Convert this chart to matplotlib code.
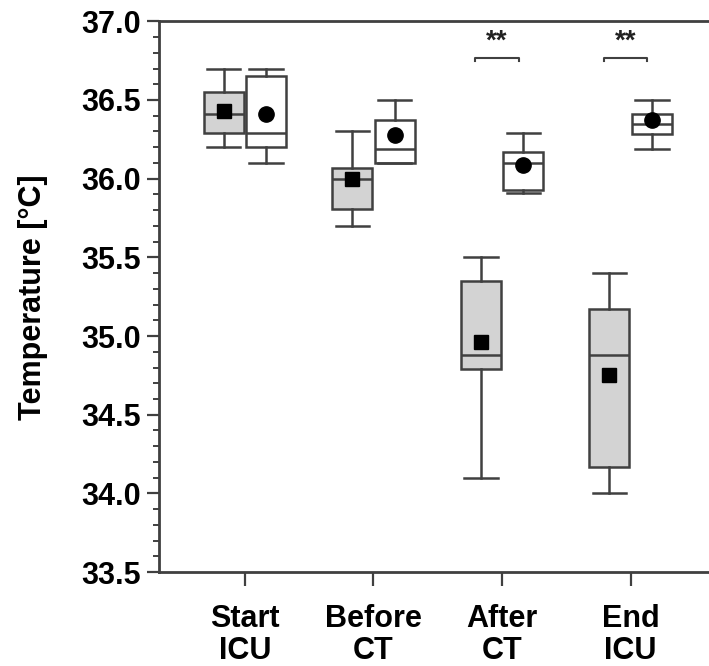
import numpy as np
import matplotlib
matplotlib.use("Agg")
import matplotlib.pyplot as plt
from matplotlib.ticker import MultipleLocator

plt.rcParams["font.family"] = ["Liberation Sans", "DejaVu Sans"]
plt.rcParams["font.weight"] = "bold"

# Data
categories = ["Start\nICU", "Before\nCT", "After\nCT", "End\nICU"]

# grey boxes (square = mean)
grey_low  = [36.20, 35.70, 34.10, 34.00]
grey_q1   = [36.29, 35.81, 34.79, 34.17]
grey_med  = [36.41, 36.00, 34.88, 34.88]
grey_q3   = [36.55, 36.07, 35.35, 35.17]
grey_high = [36.70, 36.30, 35.50, 35.40]
grey_mean = [36.43, 36.00, 34.96, 34.75]

# white boxes (circle = mean)
white_low  = [36.10, 36.10, 35.91, 36.19]
white_q1   = [36.20, 36.10, 35.93, 36.285]
white_med  = [36.29, 36.19, 36.10, 36.35]
white_q3   = [36.65, 36.37, 36.17, 36.41]
white_high = [36.70, 36.50, 36.29, 36.50]
white_mean = [36.41, 36.28, 36.09, 36.37]

sig_idx   = [2, 3]
sig_label = ["**", "**"]

EDGE = "#404040"
FILL = "#d3d3d3"
LW = 1.8

def make_stats(lo, q1, med, q3, hi):
    return [dict(whislo=a, q1=b, med=c, q3=d, whishi=e, fliers=[])
            for a, b, c, d, e in zip(lo, q1, med, q3, hi)]

fig = plt.figure(figsize=(7.09, 6.66), dpi=100)
ax = fig.add_axes([0.224, 0.141, 0.776, 0.827])

x = np.arange(len(categories))
off, w = 0.165, 0.31

for stats, pos, fill in [
        (make_stats(grey_low, grey_q1, grey_med, grey_q3, grey_high), x - off, FILL),
        (make_stats(white_low, white_q1, white_med, white_q3, white_high), x + off, "white")]:
    ax.bxp(stats, positions=pos, widths=w, capwidths=0.26, patch_artist=True,
           showfliers=False, manage_ticks=False,
           boxprops=dict(facecolor=fill, edgecolor=EDGE, linewidth=LW),
           medianprops=dict(color=EDGE, linewidth=LW),
           whiskerprops=dict(color=EDGE, linewidth=LW),
           capprops=dict(color=EDGE, linewidth=LW))

ax.plot(x - off, grey_mean, "s", color="black", markersize=10, zorder=5)
ax.plot(x + off, white_mean, "o", color="black", markersize=11, zorder=5)

# significance brackets
for i, lab in zip(sig_idx, sig_label):
    x0, x1, yb = i - 0.21, i + 0.13, 36.77
    ax.plot([x0, x0, x1, x1], [yb - 0.02, yb, yb, yb - 0.02], color=EDGE, lw=1.5)
    ax.text((x0 + x1) / 2, yb + 0.02, lab, ha="center", va="bottom",
            fontsize=20, fontweight="bold", color="#222222")

ax.set_xlim(-0.67, 3.61)
ax.set_ylim(33.5, 37.0)
ax.set_xticks(x)
ax.set_xticklabels(categories, fontsize=22, fontweight="bold", linespacing=1.1)
ax.yaxis.set_minor_locator(MultipleLocator(0.1))
yt = np.arange(33.5, 37.01, 0.5)
ax.set_yticks(yt)
ax.set_yticklabels([f"{v:.1f}" for v in yt], fontsize=22, fontweight="bold")
ax.set_ylabel("Temperature [°C]", fontsize=22, fontweight="bold", labelpad=24)

ax.tick_params(axis="y", which="major", length=9, width=1.6, color=EDGE, pad=4)
ax.tick_params(axis="y", which="minor", length=4, width=1.4, color=EDGE)
ax.tick_params(axis="x", which="major", length=10, width=1.6, color=EDGE, pad=13)
for s in ["left", "bottom", "top"]:
    ax.spines[s].set_linewidth(2.0)
    ax.spines[s].set_color(EDGE)
ax.spines["right"].set_visible(False)

fig.savefig("out.png", dpi=100)
